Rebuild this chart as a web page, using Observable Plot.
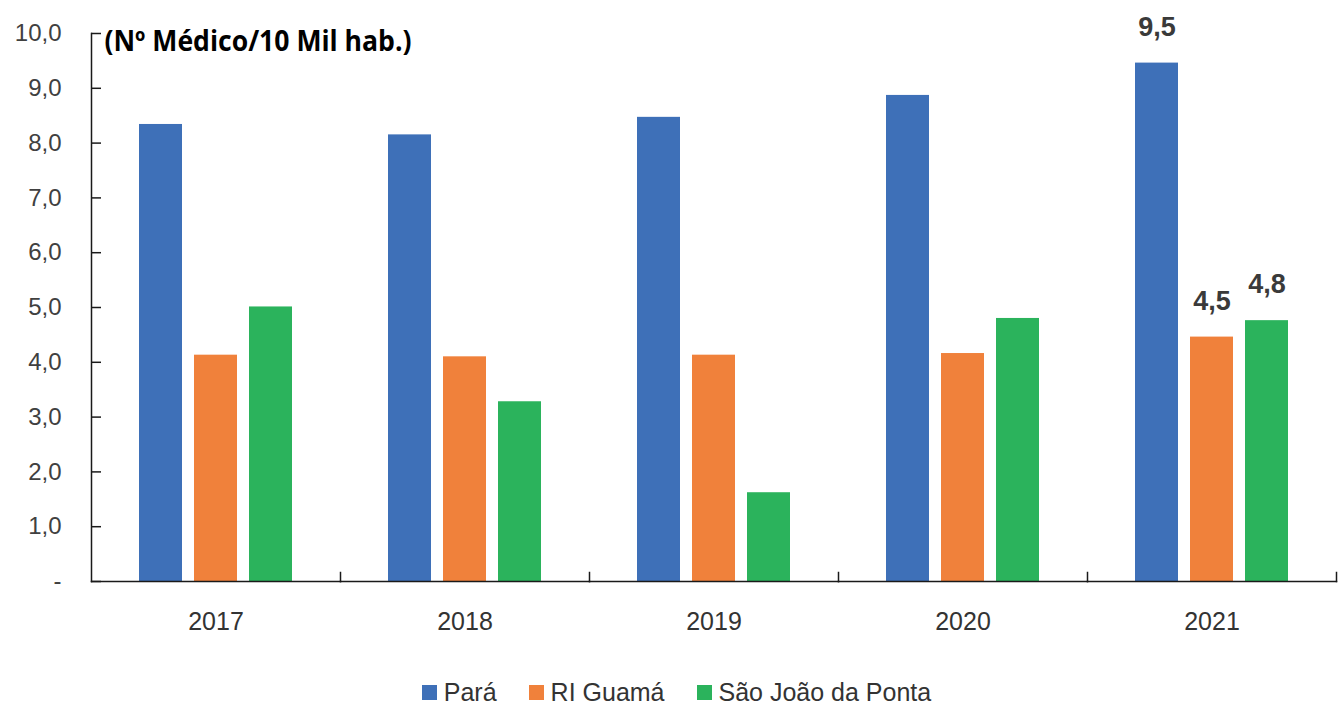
<!DOCTYPE html>
<html>
<head>
<meta charset="utf-8">
<script src="https://cdn.jsdelivr.net/npm/d3@7"></script>
<script src="https://cdn.jsdelivr.net/npm/@observablehq/plot@0.6"></script>
<style>
  body { margin: 0; background: #fff; }
  #chart { width: 1339px; height: 650px; }
  #legend { display: flex; justify-content: center; align-items: center; font-family: "Liberation Sans", Arial, Helvetica, sans-serif; font-size: 25px; color: #333; height: 40px; margin-top: 22px; margin-left: 14px; }
  #legend .item { display: flex; align-items: center; margin: 0 16px; }
  #legend .sw { width: 15px; height: 15px; margin-right: 7px; }
  #legend .lbl { font-family: "Liberation Sans", Arial, sans-serif; }
</style>
</head>
<body>
<div id="chart"></div>
<div id="legend"></div>
<script>
const years = ["2017", "2018", "2019", "2020", "2021"];
const series = ["Pará", "RI Guamá", "São João da Ponta"];
const para = [8.34, 8.15, 8.47, 8.87, 9.46];
const riGuama = [4.13, 4.10, 4.13, 4.16, 4.46];
const saoJoao = [5.01, 3.28, 1.62, 4.80, 4.76];
const labeledYear = "2021";
const yTicks = [0, 1, 2, 3, 4, 5, 6, 7, 8, 9, 10];
const title = "(Nº Médico/10 Mil hab.)";
const colors = ["#3E70B8", "#F0813B", "#2BB35C"];

const valuesBySeries = [para, riGuama, saoJoao];
const data = [];
years.forEach((yr, i) => series.forEach((s, j) => data.push({year: yr, series: s, value: valuesBySeries[j][i]})));

const fmt = d => d === 0 ? "-" : d.toFixed(1).replace(".", ",");
const H = 650, MT = 33, MB = 69;

const chart = Plot.plot({
  width: 1339,
  height: H,
  marginLeft: 91,
  marginRight: 3,
  marginTop: MT,
  marginBottom: MB,
  style: {fontFamily: "'Liberation Sans', Arial, sans-serif", background: "#fff", color: "#404040", overflow: "visible"},
  fx: {domain: years, padding: 0, label: null, axis: null},
  x: {domain: series, paddingInner: 0.22, paddingOuter: 0.87, axis: null},
  y: {domain: [0, 10], label: null},
  color: {domain: series, range: colors},
  marks: [
    Plot.barY(data, {fx: "year", x: "series", y: "value", fill: "series"}),
    Plot.frame({anchor: "bottom", stroke: "#1a1a1a", strokeWidth: 1.5}),
    Plot.frame({anchor: "right", insetTop: H - MT - MB - 9, stroke: "#1a1a1a", strokeWidth: 1.5}),
    Plot.frame({anchor: "left", facet: "super", stroke: "#1a1a1a", strokeWidth: 1.5}),
    Plot.axisY({ticks: yTicks, tickSize: 10, dx: 10, tickFormat: () => "", stroke: "#1a1a1a", strokeWidth: 1.5}),
    Plot.axisY({ticks: yTicks, tickSize: 0, tickPadding: 30, tickFormat: fmt, fontSize: 24, fill: "#404040"}),
    Plot.axisFx({anchor: "bottom", tickSize: 0, tickPadding: 31, fontSize: 25, fill: "#333", label: null}),
    Plot.text(data.filter(d => d.year === labeledYear), {fx: "year", x: "series", y: "value", text: d => fmt(d.value), dy: -36, fontSize: 27, fontWeight: "bold", fill: "#3a3a3a"}),
    Plot.text([title], {facet: "super", frameAnchor: "top-left", dx: 13, dy: -2, fontSize: 28, fontWeight: "bold", fill: "#000", fontFamily: "'Open Sans', sans-serif", className: "ttl"})
  ]
});
document.getElementById("chart").appendChild(chart);
chart.querySelectorAll(".ttl text").forEach(t => { t.setAttribute("textLength", "307"); t.setAttribute("lengthAdjust", "spacingAndGlyphs"); });

const legend = document.getElementById("legend");
series.forEach((s, i) => {
  const it = document.createElement("div");
  it.className = "item";
  it.innerHTML = `<span class="sw" style="background:${colors[i]}"></span><span class="lbl">${s}</span>`;
  legend.appendChild(it);
});
</script>
</body>
</html>
